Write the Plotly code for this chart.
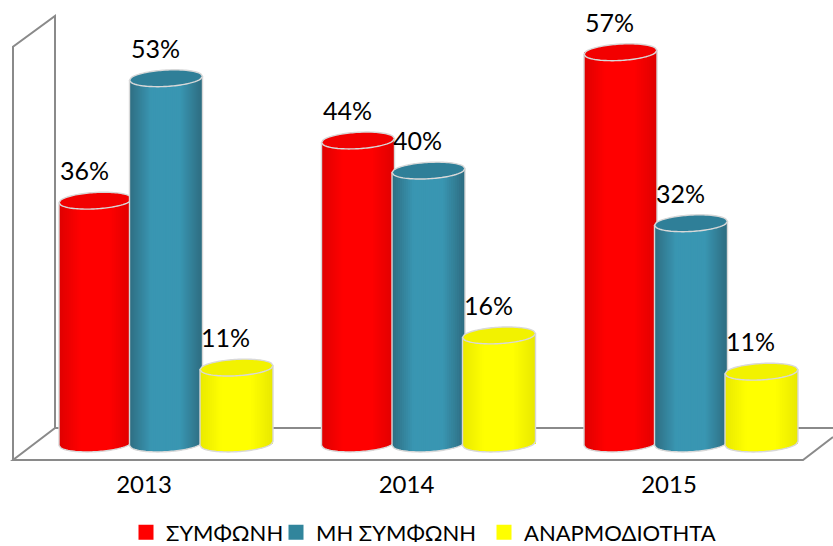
import math
import plotly.graph_objects as go

years = ["2013", "2014", "2015"]
symfoni = [35.5, 44.3, 57.2]
mi_symfoni = [53.4, 39.9, 32.2]
anarmodiotita = [11.1, 15.8, 10.5]
symfoni_labels = ["36%", "44%", "57%"]
mi_symfoni_labels = ["53%", "40%", "32%"]
anarmodiotita_labels = ["11%", "16%", "11%"]

W, H = 833, 546
PLOT_BOTTOM = 462
BASE_PX = 443.5
PX_PER_VALUE = 6.84
GROUP_PX = 262.5
FIRST_TICK_PX = 144.0
DEPTH_PX = 22.0
STEP_PX = 70.5
HALF_PX = 36.5
CAP_B = 8.2
CAP_TILT = 2.0
FONT = "Lato, Carlito, 'Open Sans', sans-serif"


def dx(px):
    return (px - FIRST_TICK_PX) / GROUP_PX


def dy(px):
    return (BASE_PX - px) / PX_PER_VALUE


def lerp(a, b, t):
    return tuple(a[i] + (b[i] - a[i]) * t for i in range(3))


def to_rgb(c):
    return "rgb(%d,%d,%d)" % tuple(round(v) for v in c)


series = [
    dict(name="ΣΥΜΦΩΝΗ", values=symfoni, labels=symfoni_labels, legend="#ff0000", legend_px=126,
         edge=(222, 0, 0), mid=(255, 0, 0), cap="#f20000"),
    dict(name="ΜΗ ΣΥΜΦΩΝΗ", values=mi_symfoni, labels=mi_symfoni_labels, legend="#31859c", legend_px=276,
         edge=(46, 108, 128), mid=(57, 150, 178), cap="#2f7f98"),
    dict(name="ΑΝΑΡΜΟΔΙΟΤΗΤΑ", values=anarmodiotita, labels=anarmodiotita_labels, legend="#ffff00", legend_px=484,
         edge=(232, 232, 0), mid=(255, 255, 0), cap="#f2f200"),
]

fig = go.Figure()
shapes = []
annotations = []
OUTLINE = dict(color="#d8d8d8", width=1.4)
GRAY = dict(color="#8a8a8a", width=2)


def add_frame(points):
    path = "M " + " L ".join(f"{dx(x):.5f},{dy(y):.4f}" for x, y in points)
    shapes.append(dict(type="path", xref="x", yref="y", path=path,
                       line=GRAY, fillcolor="rgba(0,0,0,0)", layer="below"))


add_frame([(13, 460), (13, 140 / 3), (55, 16), (55, 428), (13, 460), (803, 460), (833, 437)])
add_frame([(55, 428), (833, 428)])


def front_offset(u):
    # pixel offset of the front rim of the ellipse at normalised x position u
    return CAP_B * math.sqrt(max(0.0, 1 - u * u)) - CAP_TILT * u


def back_offset(u):
    return -CAP_B * math.sqrt(max(0.0, 1 - u * u)) - CAP_TILT * u


def add_cylinder(cx, value, s):
    top = BASE_PX - value * PX_PER_VALUE
    bottom = BASE_PX
    strips = 37
    for i in range(strips):
        u0 = -1 + 2 * i / strips
        u1 = min(1.0, -1 + 2 * (i + 1) / strips + 0.03)
        um = (u0 + u1) / 2
        t = min(1.0, (1 - abs(um)) / 0.6)
        col = to_rgb(lerp(s["edge"], s["mid"], t))
        pts = [(cx + u0 * HALF_PX, top + front_offset(u0)),
               (cx + u1 * HALF_PX, top + front_offset(u1)),
               (cx + u1 * HALF_PX, bottom + front_offset(u1)),
               (cx + u0 * HALF_PX, bottom + front_offset(u0))]
        path = "M " + " L ".join(f"{dx(x):.5f},{dy(y):.4f}" for x, y in pts) + " Z"
        shapes.append(dict(type="path", xref="x", yref="y", path=path,
                           fillcolor=col, line=dict(width=0), layer="above"))
    n = 40
    us = [-1 + 2 * i / n for i in range(n + 1)]
    # outline of the body
    body = [(cx + u * HALF_PX, bottom + front_offset(u)) for u in us]
    outline = [(cx - HALF_PX, top + CAP_TILT)] + body + [(cx + HALF_PX, top - CAP_TILT)]
    path = "M " + " L ".join(f"{dx(x):.5f},{dy(y):.4f}" for x, y in outline)
    shapes.append(dict(type="path", xref="x", yref="y", path=path,
                       fillcolor="rgba(0,0,0,0)", line=OUTLINE, layer="above"))
    # cap
    rim = [(cx + u * HALF_PX, top + front_offset(u)) for u in us]
    rim += [(cx + u * HALF_PX, top + back_offset(u)) for u in reversed(us)]
    path = "M " + " L ".join(f"{dx(x):.5f},{dy(y):.4f}" for x, y in rim) + " Z"
    shapes.append(dict(type="path", xref="x", yref="y", path=path,
                       fillcolor=s["cap"], line=OUTLINE, layer="above"))


group_positions = list(range(len(years)))
legend_layout = {}
for k, s in enumerate(series):
    offset = (DEPTH_PX + (k - 1) * STEP_PX) / GROUP_PX
    xs = [g + offset for g in group_positions]
    fig.add_trace(go.Bar(
        x=xs, y=s["values"], name=s["name"], width=2 * HALF_PX / GROUP_PX,
        marker=dict(color=s["legend"], line=dict(width=0)),
        hoverinfo="name+y", showlegend=False,
    ))
    key = "legend" if k == 0 else f"legend{k + 1}"
    fig.add_trace(go.Scatter(
        x=[None], y=[None], mode="markers", name=s["name"], legend=key,
        marker=dict(symbol="square", size=15, color=s["legend"]),
        hoverinfo="skip", showlegend=True,
    ))
    legend_layout[key] = dict(
        orientation="h", x=s["legend_px"] / W, y=(PLOT_BOTTOM - 532.5) / PLOT_BOTTOM,
        xanchor="left", yanchor="middle", itemsizing="trace",
        font=dict(family=FONT, size=22, color="#000000"),
        bgcolor="rgba(0,0,0,0)", itemclick=False, itemdoubleclick=False,
    )

# paint cylinders left to right so that later ones overlap earlier ones
for g in group_positions:
    for k, s in enumerate(series):
        cx = FIRST_TICK_PX + g * GROUP_PX + DEPTH_PX + (k - 1) * STEP_PX
        add_cylinder(cx, s["values"][g], s)
        annotations.append(dict(
            x=dx(cx), y=s["values"][g], xref="x", yref="y", text=s["labels"][g],
            showarrow=False, xanchor="center", yanchor="middle", xshift=-11, yshift=30.5,
            font=dict(family=FONT, size=25, color="#000000"),
        ))

fig.update_layout(
    width=W, height=H,
    margin=dict(l=0, r=0, t=0, b=H - PLOT_BOTTOM, autoexpand=False),
    paper_bgcolor="#ffffff", plot_bgcolor="#ffffff",
    barmode="overlay", bargap=0,
    shapes=shapes, annotations=annotations,
    showlegend=True,
    xaxis=dict(range=[dx(0), dx(W)], tickmode="array", tickvals=group_positions, ticktext=years,
               showgrid=False, zeroline=False, showline=False, ticks="outside", ticklen=1,
               tickcolor="rgba(0,0,0,0)", tickfont=dict(family=FONT, size=24, color="#000000"),
               fixedrange=True),
    yaxis=dict(range=[dy(PLOT_BOTTOM), dy(0)], showgrid=False, zeroline=False, showline=False,
               showticklabels=False, ticks="", fixedrange=True),
    **legend_layout,
)

fig.write_html("out.html", config={"displayModeBar": False},
               post_script="document.body.style.margin='0';")
